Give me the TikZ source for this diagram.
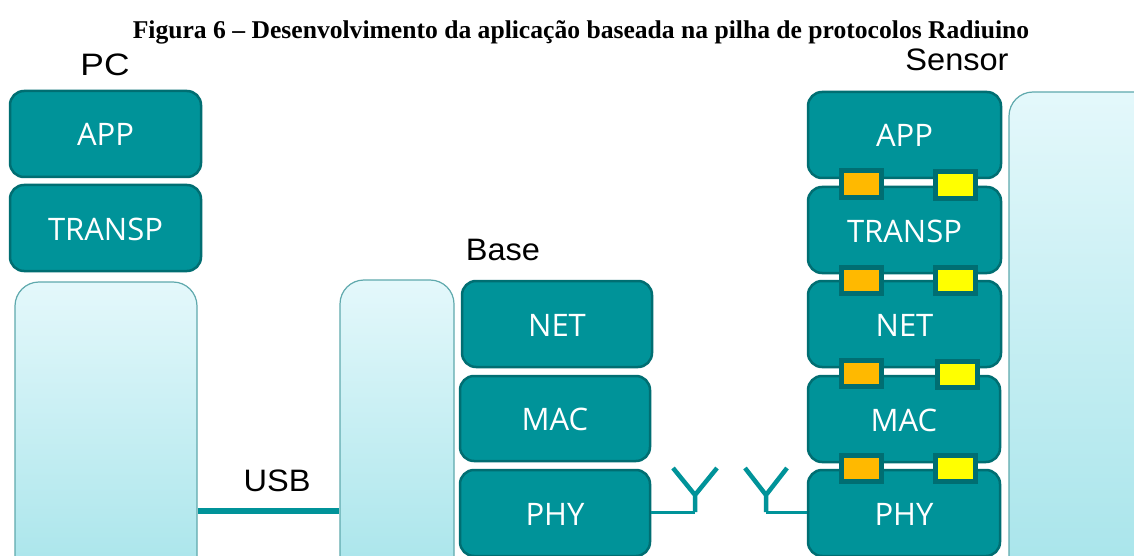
\documentclass[tikz,border=0pt]{standalone}
\usepackage{fontspec}
\setmainfont{Liberation Sans}
\newfontfamily\titlefont{Liberation Serif}
\newfontfamily\boxfont{Open Sans}
\definecolor{teal1}{HTML}{009399}
\definecolor{teal2}{HTML}{006E72}
\definecolor{lightT}{HTML}{E4F8FB}
\definecolor{lightB}{HTML}{A6E4EA}
\definecolor{lightE}{HTML}{5FA9AD}
\definecolor{orng}{HTML}{FFB900}
\definecolor{yell}{HTML}{FFFF00}
\tikzset{
  x=1pt,y=-1pt,
  layerbox/.style={draw=teal2,line width=2.5pt,fill=teal1,rounded corners=14pt,text=white,
     font=\boxfont\fontsize{31}{31}\selectfont,anchor=center,inner sep=0pt},
  lightbox/.style={draw=lightE,line width=1.2pt,top color=lightT,bottom color=lightB,rounded corners=24pt,inner sep=0pt},
  port/.style={draw=teal2,line width=5pt,inner sep=0pt,minimum width=40pt,minimum height=26pt},
  label/.style={font=\fontsize{31}{31}\selectfont,text=black,inner sep=0pt},
  wire/.style={draw=teal1,line width=3pt},
  usbwire/.style={draw=teal1,line width=6pt},
  antenna/.style={draw=teal1,line width=4.5pt,line cap=butt},
}
\newcommand{\layer}[6]{% name x1 y1 x2 y2 text
  \node[layerbox,minimum width=#4pt-#2pt,minimum height=#5pt-#3pt,text height=24pt,text depth=0pt] (#1) at ({(#2+#4)/2},{(#3+#5)/2}) {#6};}
\newcommand{\lightb}[5]{%
  \node[lightbox,minimum width=#4pt-#2pt,minimum height=#5pt-#3pt] (#1) at ({(#2+#4)/2},{(#3+#5)/2}) {};}
\begin{document}
\begin{tikzpicture}
\useasboundingbox (0,0) rectangle (1134,556);
\fill[white] (0,0) rectangle (1134,556);
\node[font=\titlefont\bfseries\fontsize{25.6}{25.6}\selectfont,inner sep=0pt] (title) at (581,32) {Figura 6 – Desenvolvimento da aplicação baseada na pilha de protocolos Radiuino};
\node[label,xscale=1.14] (pc) at (105,65) {PC};
\node[label,xscale=1.05] (base) at (503,250) {Base};
\node[label,xscale=1.05] (sensor) at (957,60) {Sensor};
\node[label,xscale=1.05] (usb) at (277,481) {USB};
% light panels
\lightb{pcpanel}{15}{282}{197}{590}
\lightb{basepanel}{340}{280}{454}{590}
\lightb{sensorpanel}{1009}{92}{1170}{590}
% PC
\layer{pcapp}{10}{91}{201}{177}{APP}
\layer{pctransp}{10}{185}{201}{271}{TRANSP}
% Base
\layer{basenet}{462}{281}{652}{367}{NET}
\layer{basemac}{460}{376}{650}{461}{MAC}
\layer{basephy}{460}{470}{650}{556}{PHY}
% Sensor
\layer{sapp}{808}{92}{1001}{178}{APP}
\layer{stransp}{808}{187}{1001}{273}{TRANSP}
\layer{snet}{808}{281}{1001}{367}{NET}
\layer{smac}{808}{376}{1000}{462}{MAC}
\layer{sphy}{808}{470}{1000}{556}{PHY}
% ports
\node[port,fill=orng] (o1) at (861,184) {};
\node[port,fill=yell] (y1) at (955,185) {};
\node[port,fill=orng] (o2) at (861,280) {};
\node[port,fill=yell] (y2) at (955,280) {};
\node[port,fill=orng] (o3) at (861,373) {};
\node[port,fill=yell] (y3) at (957,374) {};
\node[port,fill=orng] (o4) at (861,468) {};
\node[port,fill=yell] (y4) at (955,468) {};
% USB
\draw[usbwire] (pcpanel.east |- 0,511) -- (basepanel.west |- 0,511);
% antennas
\coordinate (a1) at (695,512);
\coordinate (a1j) at (695,495);
\coordinate (a1l) at (673,468);
\coordinate (a1r) at (717,468);
\coordinate (a2) at (766,512);
\coordinate (a2j) at (766,495);
\coordinate (a2l) at (745,468);
\coordinate (a2r) at (787,468);
\draw[wire] (basephy.east |- a1) -- (a1);
\draw[wire] (sphy.west |- a2) -- (a2);
\draw[antenna] (a1) -- (a1j) -- (a1l) (a1j) -- (a1r);
\draw[antenna] (a2) -- (a2j) -- (a2l) (a2j) -- (a2r);
\end{tikzpicture}
\end{document}
